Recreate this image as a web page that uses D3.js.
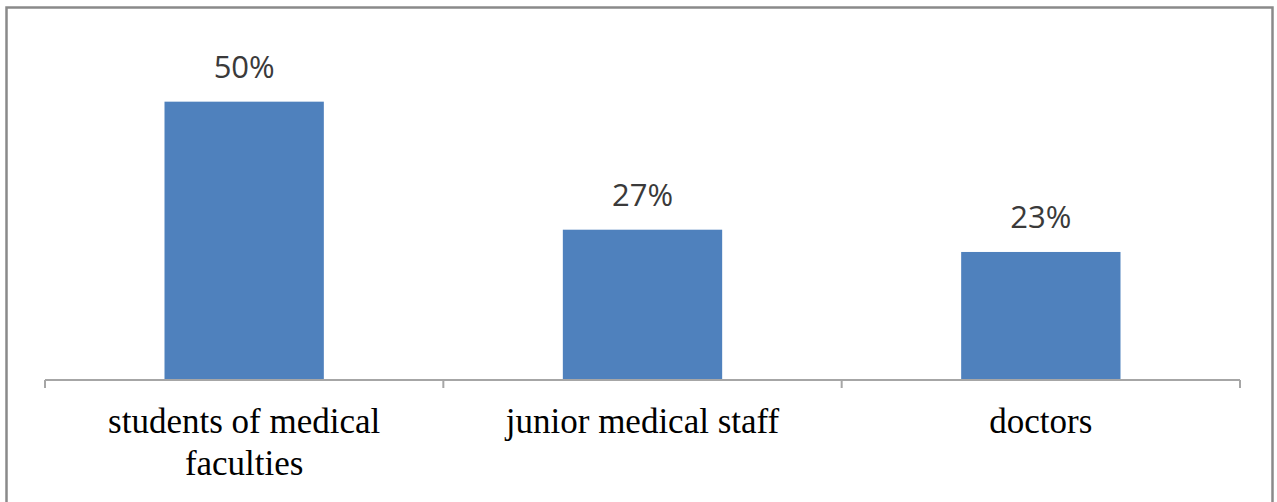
<!DOCTYPE html>
<html>
<head>
<meta charset="utf-8">
<script src="https://cdn.jsdelivr.net/npm/d3@7"></script>
<style>
    body { margin: 0; background: #fff; }
</style>
</head>
<body>
<div id="chart"></div>
<script>
let categories = [["students of medical", "faculties"], ["junior medical staff"], ["doctors"]];
let values = [50, 27, 23];
let valueLabels = ["50%", "27%", "23%"];

function init() {
    let width = 1277;
    let height = 502;
    let svg = d3.select("#chart")
        .append("svg")
        .attr("width", width)
        .attr("height", height);

    // outer frame
    svg.append("rect")
        .attr("x", 6.5).attr("y", 7.5)
        .attr("width", 1266).attr("height", 510)
        .attr("fill", "none")
        .attr("stroke", "#8a8a8a")
        .attr("stroke-width", 2.5);

    let xScale = d3.scaleBand()
        .domain(d3.range(values.length))
        .range([45, 1240])
        .paddingInner(0.6)
        .paddingOuter(0.3);
    let slot = d3.scaleBand()
        .domain(d3.range(values.length))
        .range([45, 1240]);
    let yScale = d3.scaleLinear()
        .domain([0, 60])
        .range([380, 46]);

    svg.selectAll(".bar")
        .data(values)
        .enter()
        .append("rect")
        .attr("class", "bar")
        .attr("x", (d, i) => xScale(i))
        .attr("y", d => yScale(d))
        .attr("width", xScale.bandwidth())
        .attr("height", d => yScale(0) - yScale(d))
        .attr("fill", "#4f81bd");

    svg.selectAll(".val")
        .data(values)
        .enter()
        .append("text")
        .attr("class", "val")
        .attr("x", (d, i) => xScale(i) + xScale.bandwidth() / 2)
        .attr("y", d => yScale(d) - 24)
        .attr("text-anchor", "middle")
        .attr("font-family", "Open Sans")
        .attr("font-size", 31)
        .attr("fill", "#3a3a3a")
        .text((d, i) => valueLabels[i]);

    // axis line with boundary ticks
    let axis = svg.append("g").attr("stroke", "#a6a6a6").attr("stroke-width", 2);
    axis.append("line")
        .attr("x1", 45).attr("x2", 1240)
        .attr("y1", yScale(0)).attr("y2", yScale(0));
    let edges = d3.range(values.length + 1).map(i => i < values.length ? slot(i) : slot(i - 1) + slot.bandwidth());
    axis.selectAll(".tick")
        .data(edges)
        .enter()
        .append("line")
        .attr("x1", d => d).attr("x2", d => d)
        .attr("y1", yScale(0)).attr("y2", yScale(0) + 8);

    let labels = svg.selectAll(".cat")
        .data(categories)
        .enter()
        .append("text")
        .attr("class", "cat")
        .attr("text-anchor", "middle")
        .attr("font-family", "Liberation Serif")
        .attr("font-size", 35)
        .attr("fill", "#000");
    labels.selectAll("tspan")
        .data((d, i) => d.map(t => ({ t: t, i: i })))
        .enter()
        .append("tspan")
        .attr("x", d => slot(d.i) + slot.bandwidth() / 2)
        .attr("y", (d, j) => 433 + j * 42)
        .text(d => d.t);
}

window.addEventListener('load', init);
</script>
</body>
</html>
